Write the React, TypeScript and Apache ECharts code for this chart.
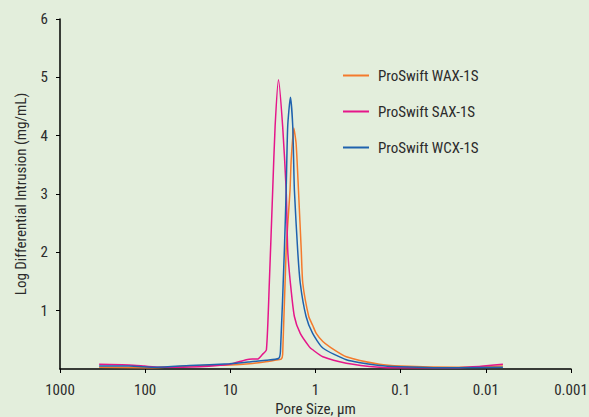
import React, { useEffect, useRef } from "react";
import * as echarts from "echarts";

const seriesNames = ["ProSwift WAX-1S", "ProSwift SAX-1S", "ProSwift WCX-1S"];
const seriesColors = ["#f47a2c", "#e5168a", "#1f62ae"];

// [pore size µm, log differential intrusion]
const waxData: [number, number][] = [
  [347, 0.03], [100, 0.02], [30, 0.05], [10, 0.07], [6, 0.09], [4, 0.12], [3, 0.15],
  [2.53, 0.17], [2.43, 0.25], [2.21, 2.04], [1.99, 3.07], [1.93, 3.58], [1.8, 4.13],
  [1.69, 3.87], [1.585, 3.07], [1.47, 2.04], [1.41, 1.47], [1.2, 0.9], [1.08, 0.75],
  [0.98, 0.61], [0.82, 0.47], [0.68, 0.38], [0.435, 0.21], [0.177, 0.08], [0.1, 0.05],
  [0.022, 0.03], [0.0063, 0.05],
];
const saxData: [number, number][] = [
  [347, 0.08], [155, 0.07], [102, 0.05], [68, 0.03], [23, 0.04], [10.2, 0.08], [6.5, 0.16],
  [5.5, 0.17], [4.8, 0.17], [4.2, 0.25], [3.77, 0.33], [3.48, 1.5], [3.18, 3.07], [2.98, 4.16],
  [2.72, 4.96], [2.43, 4.16], [2.21, 3.07], [2.12, 2.04], [1.97, 1.47], [1.77, 0.9],
  [1.51, 0.61], [1.18, 0.38], [1.08, 0.33], [0.82, 0.21], [0.435, 0.1], [0.177, 0.03],
  [0.1, 0.02], [0.022, 0.02], [0.0063, 0.08],
];
const wcxData: [number, number][] = [
  [347, 0.05], [155, 0.05], [74, 0.03], [30, 0.06], [10.2, 0.09], [6, 0.12], [3.8, 0.15],
  [2.72, 0.18], [2.58, 0.3], [2.32, 2.04], [2.21, 3.07], [2.12, 4.16], [1.97, 4.66],
  [1.85, 4.16], [1.77, 3.07], [1.62, 2.04], [1.51, 1.47], [1.29, 0.9], [1.08, 0.61],
  [0.82, 0.36], [0.435, 0.16], [0.177, 0.06], [0.1, 0.04], [0.022, 0.02], [0.0063, 0.03],
];
const seriesData = [waxData, saxData, wcxData];

const xTickLabels: Record<string, string> = {
  "1000": "1000", "100": "100", "10": "10", "1": "1", "0.1": "0.1", "0.01": "0.01", "0.001": "0.001",
};

const FONT = "'Liberation Sans Narrow', 'Arial Narrow', 'Roboto Condensed', 'Liberation Sans', sans-serif";
const TEXT_COLOR = "#2b2b2b";

export default function App() {
  const ref = useRef<HTMLDivElement>(null);
  useEffect(() => {
    if (!ref.current) return;
    const chart = echarts.init(ref.current, undefined, { renderer: "svg" });
    chart.setOption({
      animation: false,
      backgroundColor: "#e3eedc",
      grid: { left: 60, right: 18, top: 19, bottom: 48, outerBoundsMode: "none" },
      legend: {
        orient: "vertical",
        left: 338,
        top: 63,
        icon: "rect",
        itemWidth: 26,
        itemHeight: 2,
        itemGap: 21,
        textStyle: { fontFamily: FONT, fontSize: 15, color: TEXT_COLOR, padding: [0, 0, 0, 4] },
        data: seriesNames,
      },
      xAxis: {
        type: "log",
        logBase: 10,
        min: 0.001,
        max: 1000,
        inverse: true,
        name: "Pore Size, µm",
        nameLocation: "middle",
        nameGap: 26,
        nameTextStyle: { fontFamily: FONT, fontSize: 15, color: TEXT_COLOR },
        axisLine: { lineStyle: { color: "#000", width: 1.5 } },
        axisTick: { show: true, length: 4, lineStyle: { color: "#000" } },
        axisLabel: {
          fontFamily: FONT,
          fontSize: 15,
          color: TEXT_COLOR,
          margin: 13,
          formatter: (v: number) => {
            const k = String(parseFloat(v.toPrecision(6)));
            return xTickLabels[k] ?? k;
          },
        },
        splitLine: { show: false },
      },
      yAxis: {
        type: "value",
        min: 0,
        max: 6,
        interval: 1,
        name: "Log Differential Intrusion (mg/mL)",
        nameLocation: "middle",
        nameGap: 32,
        nameTextStyle: { fontFamily: FONT, fontSize: 15, color: TEXT_COLOR },
        axisLine: { show: true, lineStyle: { color: "#000", width: 1.5 } },
        axisTick: { show: true, length: 4, lineStyle: { color: "#000" } },
        axisLabel: {
          fontFamily: FONT,
          fontSize: 15,
          color: TEXT_COLOR,
          margin: 12,
          showMinLabel: false,
        },
        splitLine: { show: false },
      },
      series: seriesNames.map((name, i) => ({
        name,
        type: "line",
        data: seriesData[i],
        showSymbol: false,
        smooth: 0.2,
        lineStyle: { color: seriesColors[i], width: 1.5 },
        itemStyle: { color: seriesColors[i] },
        z: i === 0 ? 2 : i === 1 ? 3 : 4,
      })),
    });
    return () => chart.dispose();
  }, []);
  return (
    <div
      ref={ref}
      style={{ width: 589, height: 417, position: "fixed", left: 0, top: 0 }}
    />
  );
}
